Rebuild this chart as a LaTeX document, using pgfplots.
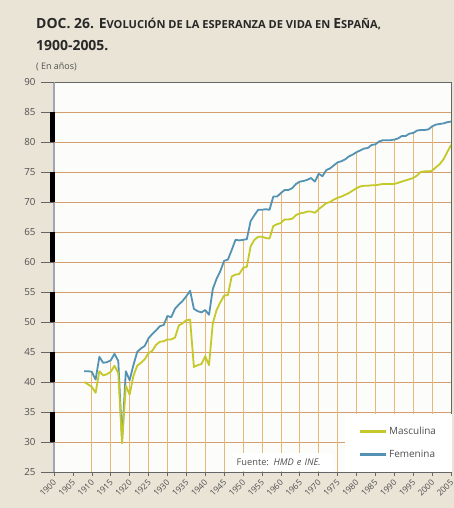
\documentclass[border=0pt]{standalone}
\usepackage{fontspec}
\setmainfont{Open Sans}
\usepackage{pgfplots}
\pgfplotsset{compat=1.18}
\usepackage{pgfplotstable}
\definecolor{bg}{RGB}{234,228,215}
\definecolor{plotbg}{RGB}{252,252,250}
\definecolor{masc}{RGB}{196,200,40}
\definecolor{fem}{RGB}{84,146,180}
\definecolor{hgrid}{RGB}{212,158,112}
\definecolor{vgrid}{RGB}{230,186,118}
\definecolor{txt}{RGB}{80,80,80}
\definecolor{ttl}{RGB}{40,40,40}
\definecolor{lax}{RGB}{160,166,180}

\pgfplotstableread{
year masc fem
1908 40.0 41.8
1909 39.6 41.8
1910 39.2 41.7
1911 38.2 40.4
1912 41.8 44.2
1913 41.1 43.2
1914 41.3 43.3
1915 41.7 43.6
1916 42.7 44.7
1917 41.5 43.5
1918 29.8 30.4
1919 39.4 41.8
1920 37.9 40.3
1921 41.0 42.8
1922 42.7 45.0
1923 43.2 45.6
1924 43.8 46.0
1925 44.8 47.3
1926 45.2 48.0
1927 46.2 48.6
1928 46.7 49.3
1929 46.8 49.5
1930 47.1 51.0
1931 47.1 50.8
1932 47.4 52.2
1933 49.4 52.9
1934 49.8 53.5
1935 50.3 54.3
1936 50.4 55.2
1937 42.5 52.2
1938 42.8 51.8
1939 43.0 51.6
1940 44.3 52.0
1941 42.8 51.2
1942 49.8 55.5
1943 52.0 57.2
1944 53.3 58.5
1945 54.4 60.2
1946 54.5 60.4
1947 57.6 62.0
1948 57.9 63.7
1949 58.0 63.6
1950 59.0 63.7
1951 59.2 63.8
1952 62.6 66.8
1953 63.7 67.8
1954 64.2 68.7
1955 64.2 68.7
1956 64.0 68.8
1957 63.9 68.7
1958 66.0 70.9
1959 66.3 70.9
1960 66.5 71.5
1961 67.1 72.0
1962 67.1 72.0
1963 67.2 72.3
1964 67.8 73.0
1965 68.1 73.4
1966 68.2 73.5
1967 68.4 73.7
1968 68.4 74.0
1969 68.2 73.4
1970 68.8 74.7
1971 69.3 74.3
1972 69.8 75.3
1973 70.0 75.6
1974 70.4 76.1
1975 70.7 76.6
1976 70.9 76.8
1977 71.2 77.1
1978 71.5 77.6
1979 71.9 77.9
1980 72.3 78.3
1981 72.6 78.6
1982 72.7 78.9
1983 72.7 79.0
1984 72.8 79.5
1985 72.8 79.6
1986 72.9 80.1
1987 73.0 80.3
1988 73.0 80.3
1989 73.0 80.3
1990 73.0 80.4
1991 73.2 80.6
1992 73.4 81.0
1993 73.6 81.0
1994 73.8 81.4
1995 74.0 81.5
1996 74.4 81.9
1997 75.0 82.0
1998 75.1 82.0
1999 75.1 82.1
2000 75.2 82.6
2001 75.8 82.9
2002 76.3 83.0
2003 77.1 83.1
2004 78.3 83.3
2005 79.5 83.4
}\data

\begin{document}
\begin{tikzpicture}
\fill[bg] (0bp,0bp) rectangle (454bp,508bp);
\path[use as bounding box] (0bp,0bp) rectangle (454bp,508bp);
\node[anchor=base west, inner sep=0pt, text=ttl, font=\bfseries] at (36bp,479bp)
  {\fontsize{14}{16}\selectfont DOC. 26. E\fontsize{11.1}{13}\selectfont VOLUCIÓN DE LA ESPERANZA DE VIDA EN \fontsize{14}{16}\selectfont E\fontsize{11.1}{13}\selectfont SPAÑA,};
\node[anchor=base west, inner sep=0pt, text=ttl, font=\bfseries\fontsize{14}{16}\selectfont] at (36bp,457bp) {1900-2005.};
\node[anchor=base west, inner sep=0pt, text=txt, font=\fontsize{9}{10}\selectfont] at (36bp,438bp) {( En años)};
\begin{axis}[
  at={(54bp,36bp)}, anchor=south west,
  scale only axis, width=397bp, height=390bp,
  xmin=1900, xmax=2005, ymin=25, ymax=90,
  xtick={1900,1905,...,2005}, ytick={25,30,...,90},
  axis background/.style={fill=plotbg},
  clip mode=individual,
  ymajorgrids, grid style={hgrid, line width=0.7pt},
  axis line style={draw=black!60, line width=0.7pt},
  tick align=outside, xtick pos=left, ytick pos=left,
  major tick style={black!60, line width=0.6pt},
  major tick length=4bp,
  /pgf/number format/1000 sep={},
  /pgf/number format/assume math mode=true,
  xticklabel style={rotate=45, anchor=north east, font=\fontsize{8.4}{10}\selectfont, text=txt, inner sep=0.5pt, xshift=-2.5bp, yshift=-0.5bp},
  yticklabel style={font=\fontsize{9.8}{11}\selectfont, text=txt, xshift=-11bp},
  legend style={at={(1.003,0)}, anchor=south east, draw=none, fill=white,
    font=\fontsize{10}{12}\selectfont, text=txt, inner xsep=14bp, inner ysep=11bp, row sep=10bp},
  legend cell align=left,
  reverse legend,
  legend image code/.code={\draw[#1, line width=2.2bp] (0bp,0bp) -- (26bp,0bp);},
]
\addplot[ycomb, vgrid, line width=0.7pt, forget plot] coordinates {
(1910,41.7) (1915,43.6) (1920,40.3) (1925,47.3) (1930,51.0) (1935,54.3)
(1940,52.0) (1945,60.2) (1950,63.7) (1955,68.7) (1960,71.5) (1965,73.4)
(1970,74.7) (1975,76.6) (1980,78.3) (1985,79.6) (1990,80.4) (1995,81.5) (2000,82.6)};
\addplot[fem, line width=1.8pt, line join=round] table[x=year, y=fem] {\data};
\addlegendentry{Femenina}
\addplot[masc, line width=1.8pt, line join=round] table[x=year, y=masc] {\data};
\addlegendentry{Masculina}
\draw[line width=1.4pt, lax] (axis cs:1900,25) -- (axis cs:1900,90);
\draw[black!60, line width=0.6pt] ([xshift=-13bp]axis cs:1900,25) -- (axis cs:1900,25);
\draw[black!60, line width=0.6pt] ([xshift=-13bp]axis cs:1900,30) -- (axis cs:1900,30);
\draw[black!60, line width=0.6pt] ([xshift=-13bp]axis cs:1900,35) -- (axis cs:1900,35);
\draw[black!60, line width=0.6pt] ([xshift=-13bp]axis cs:1900,40) -- (axis cs:1900,40);
\draw[black!60, line width=0.6pt] ([xshift=-13bp]axis cs:1900,45) -- (axis cs:1900,45);
\draw[black!60, line width=0.6pt] ([xshift=-13bp]axis cs:1900,50) -- (axis cs:1900,50);
\draw[black!60, line width=0.6pt] ([xshift=-13bp]axis cs:1900,55) -- (axis cs:1900,55);
\draw[black!60, line width=0.6pt] ([xshift=-13bp]axis cs:1900,60) -- (axis cs:1900,60);
\draw[black!60, line width=0.6pt] ([xshift=-13bp]axis cs:1900,65) -- (axis cs:1900,65);
\draw[black!60, line width=0.6pt] ([xshift=-13bp]axis cs:1900,70) -- (axis cs:1900,70);
\draw[black!60, line width=0.6pt] ([xshift=-13bp]axis cs:1900,75) -- (axis cs:1900,75);
\draw[black!60, line width=0.6pt] ([xshift=-13bp]axis cs:1900,80) -- (axis cs:1900,80);
\draw[black!60, line width=0.6pt] ([xshift=-13bp]axis cs:1900,85) -- (axis cs:1900,85);
\draw[black!60, line width=0.6pt] ([xshift=-13bp]axis cs:1900,90) -- (axis cs:1900,90);
\draw[black, line width=4.5bp] ([xshift=-1.5bp]axis cs:1900,30) -- ([xshift=-1.5bp]axis cs:1900,35);
\draw[black, line width=4.5bp] ([xshift=-1.5bp]axis cs:1900,40) -- ([xshift=-1.5bp]axis cs:1900,45);
\draw[black, line width=4.5bp] ([xshift=-1.5bp]axis cs:1900,50) -- ([xshift=-1.5bp]axis cs:1900,55);
\draw[black, line width=4.5bp] ([xshift=-1.5bp]axis cs:1900,60) -- ([xshift=-1.5bp]axis cs:1900,65);
\draw[black, line width=4.5bp] ([xshift=-1.5bp]axis cs:1900,70) -- ([xshift=-1.5bp]axis cs:1900,75);
\draw[black, line width=4.5bp] ([xshift=-1.5bp]axis cs:1900,80) -- ([xshift=-1.5bp]axis cs:1900,85);
\node[anchor=south west, fill=white, inner xsep=4bp, inner ysep=3bp, minimum height=18bp, text width=92bp,
  font=\fontsize{9.3}{10}\selectfont, text=txt] at (axis cs:1947.2,25.15) {Fuente: \textit{HMD e INE.}};
\end{axis}
\end{tikzpicture}
\end{document}
